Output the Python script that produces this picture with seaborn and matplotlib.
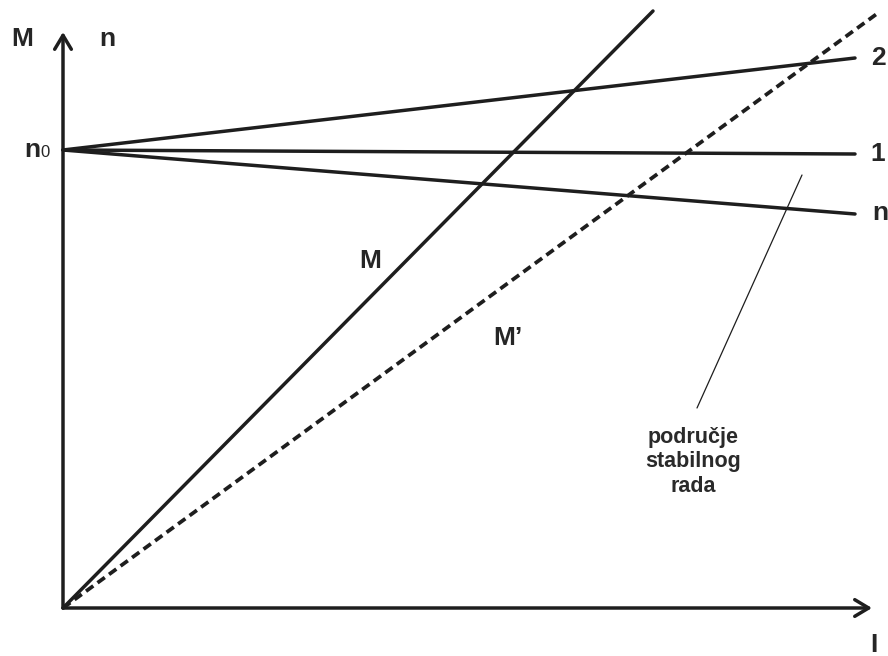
"""
Characteristics M(I) and n(I) sketch: torque and speed against current.
"""

import matplotlib
matplotlib.use("Agg")
import matplotlib.pyplot as plt
import pandas as pd
import seaborn as sns


# values (pixel offsets from the origin)
CURRENT_END: list[int] = [0, 792]
N0: int = 458
SPEED_2: list[int] = [N0, 550]
SPEED_1: list[int] = [N0, 454]
SPEED_N: list[int] = [N0, 394]

TORQUE_M_I: list[int] = [0, 590]
TORQUE_M: list[int] = [0, 597]
TORQUE_M2_I: list[int] = [0, 815]
TORQUE_M2: list[int] = [0, 595]

NOTE_I: list[int] = [634, 739]
NOTE_Y: list[int] = [200, 433]

AXIS_I_MAX: int = 809
AXIS_Y_MAX: int = 576

LINE_COLOR = "#1e1e1e"
BOLD = {"family": ["Liberation Sans", "DejaVu Sans"], "weight": "bold"}


def build_lines() -> pd.DataFrame:
    """
    Put every straight line in one long table.
    """
    parts = [
        ("2", CURRENT_END, SPEED_2),
        ("1", CURRENT_END, SPEED_1),
        ("n", CURRENT_END, SPEED_N),
        ("M", TORQUE_M_I, TORQUE_M),
    ]
    rows = []
    for name, xs, ys in parts:
        for x, y in zip(xs, ys):
            rows.append({"curve": name, "I": x, "y": y})
    return pd.DataFrame(rows)


def main() -> None:
    sns.set_style("white")
    plt.rcParams["font.family"] = ["Liberation Sans", "DejaVu Sans"]

    fig = plt.figure(figsize=(8.88, 6.56), dpi=100)
    ax = fig.add_axes([0, 0, 1, 1])

    lines = build_lines()
    sns.lineplot(
        data=lines, x="I", y="y", units="curve", estimator=None,
        color=LINE_COLOR, linewidth=2.5, ax=ax, legend=False,
    )

    dashed = pd.DataFrame({"I": TORQUE_M2_I, "y": TORQUE_M2})
    sns.lineplot(
        data=dashed, x="I", y="y", color=LINE_COLOR, linewidth=2.7,
        linestyle=(0, (2.4, 1.4)), ax=ax,
    )

    note = pd.DataFrame({"I": NOTE_I, "y": NOTE_Y})
    sns.lineplot(
        data=note, x="I", y="y", color=LINE_COLOR, linewidth=0.9, ax=ax
    )

    # axes with open arrow heads
    arrow = dict(arrowstyle="->,head_length=1.0,head_width=0.6",
                 color=LINE_COLOR, lw=2.5, shrinkA=0, shrinkB=0)
    ax.annotate("", xy=(AXIS_I_MAX, 0), xytext=(0, 0), arrowprops=arrow)
    ax.annotate("", xy=(0, AXIS_Y_MAX), xytext=(0, 0), arrowprops=arrow)

    size = 19
    ax.text(-41, 569, "M", ha="center", va="center", fontsize=size, **BOLD)
    ax.text(44, 569, "n", ha="center", va="center", fontsize=size, **BOLD)
    ax.text(-31, 451, "n", ha="center", va="baseline", fontsize=size,
            **BOLD)
    ax.text(-18, 451, "0", ha="center", va="baseline", fontsize=12,
            family=["Liberation Sans", "DejaVu Sans"])
    ax.text(815, 550, "2", ha="center", va="center", fontsize=size, **BOLD)
    ax.text(815, 454, "1", ha="center", va="center", fontsize=size, **BOLD)
    ax.text(817, 395, "n", ha="center", va="center", fontsize=size, **BOLD)
    ax.text(307, 347, "M", ha="center", va="center", fontsize=size, **BOLD)
    ax.text(445, 270, "M\u2019", ha="center", va="center", fontsize=size,
            **BOLD)
    ax.text(811, -37, "I", ha="center", va="center", fontsize=size, **BOLD)
    ax.text(630, 146, "područje\nstabilnog\nrada", ha="center",
            va="center", multialignment="center", fontsize=15.5,
            linespacing=1.25, color="#2a2a2a", **BOLD)

    ax.set_xlim(-63, 825)
    ax.set_ylim(-48, 608)
    ax.axis("off")

    fig.savefig("out.png", dpi=100, facecolor="white")


if __name__ == "__main__":
    main()
